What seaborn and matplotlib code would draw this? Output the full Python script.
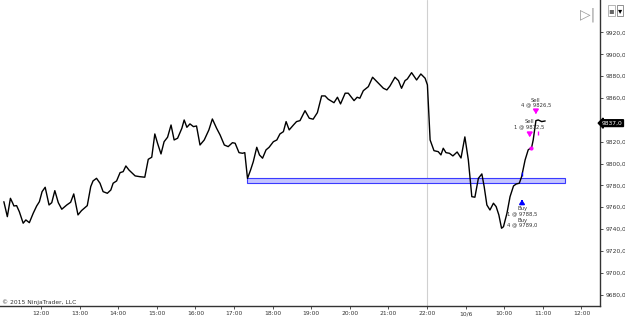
import numpy as np
import pandas as pd
import matplotlib
matplotlib.use("Agg")
import matplotlib.pyplot as plt
import matplotlib.transforms as mtransforms
from matplotlib.patches import Rectangle
import seaborn as sns

# session hour position (12 = 12:00 ... 22 = 22:00, 23 = 10/6 session start, 24 = 10:00, ...)
times = [11.04, 11.13, 11.21, 11.27, 11.30, 11.37, 11.44, 11.54, 11.61, 11.70,
         11.80, 11.89, 11.96, 12.03, 12.11, 12.21, 12.28, 12.36, 12.45, 12.54,
         12.67, 12.77, 12.85, 12.96, 13.05, 13.20, 13.29, 13.35, 13.44, 13.53,
         13.61, 13.72, 13.81, 13.87, 13.96, 14.05, 14.13, 14.20, 14.28, 14.44,
         14.56, 14.69, 14.78, 14.87, 14.95, 15.02, 15.11, 15.19, 15.28, 15.37,
         15.45, 15.54, 15.65, 15.71, 15.78, 15.86, 15.95, 16.03, 16.12, 16.23,
         16.35, 16.44, 16.55, 16.64, 16.75, 16.85, 16.96, 17.03, 17.13, 17.22,
         17.28, 17.35, 17.43, 17.50, 17.59, 17.66, 17.74, 17.83, 17.91, 18.02,
         18.11, 18.19, 18.28, 18.35, 18.43, 18.54, 18.62, 18.71, 18.84, 18.95,
         19.05, 19.16, 19.27, 19.36, 19.44, 19.59, 19.68, 19.76, 19.88, 19.96,
         20.11, 20.19, 20.26, 20.35, 20.48, 20.59, 20.70, 20.87, 20.96, 21.04,
         21.17, 21.26, 21.34, 21.43, 21.49, 21.60, 21.73, 21.84, 21.95, 22.01,
         22.08, 22.18, 22.29, 22.36, 22.42, 22.49, 22.58, 22.67, 22.78, 22.88,
         22.98, 23.07, 23.16, 23.24, 23.33, 23.42, 23.48, 23.55, 23.63, 23.72,
         23.79, 23.86, 23.93, 23.98, 24.07, 24.15, 24.24, 24.31, 24.39, 24.45,
         24.54, 24.62, 24.71, 24.75, 24.80, 24.82, 24.88, 24.97, 25.06]

prices = [9765.1, 9751.4, 9768.2, 9763.7, 9761.2, 9761.5, 9756.0, 9745.4, 9748.4, 9745.9,
          9754.5, 9761.2, 9765.1, 9774.3, 9778.3, 9762.1, 9764.2, 9775.2, 9764.2, 9758.2,
          9762.1, 9764.6, 9772.2, 9753.0, 9756.9, 9761.5, 9778.9, 9784.1, 9786.5, 9782.0,
          9774.3, 9772.8, 9775.8, 9782.0, 9784.1, 9791.7, 9792.6, 9797.8, 9794.1, 9788.7,
          9788.0, 9787.5, 9803.9, 9805.8, 9827.1, 9818.6, 9808.8, 9820.0, 9824.1, 9835.3,
          9821.6, 9823.2, 9832.3, 9839.9, 9833.2, 9836.3, 9833.8, 9834.4, 9817.0, 9821.6,
          9830.8, 9840.8, 9832.3, 9826.2, 9817.0, 9815.5, 9819.1, 9818.6, 9810.0, 9809.4,
          9810.0, 9786.4, 9794.1, 9801.7, 9814.9, 9807.9, 9804.9, 9812.5, 9814.9, 9820.0,
          9821.6, 9827.1, 9829.2, 9838.4, 9830.8, 9835.3, 9838.4, 9839.3, 9848.4, 9841.5,
          9840.6, 9846.6, 9861.9, 9861.9, 9858.9, 9855.7, 9860.7, 9854.6, 9864.4, 9864.4,
          9857.6, 9860.7, 9859.8, 9866.7, 9870.4, 9879.0, 9875.0, 9868.9, 9867.4, 9871.0,
          9879.0, 9875.9, 9868.9, 9875.9, 9877.4, 9883.2, 9876.5, 9882.0, 9878.1, 9872.0,
          9821.6, 9811.8, 9810.9, 9807.9, 9814.0, 9810.0, 9809.4, 9807.0, 9810.6, 9805.1,
          9824.4, 9803.3, 9769.7, 9769.2, 9786.5, 9790.5, 9778.9, 9762.1, 9757.5, 9763.7,
          9760.6, 9753.0, 9740.8, 9742.2, 9754.5, 9769.7, 9779.5, 9781.3, 9782.0, 9788.0,
          9803.3, 9812.5, 9814.9, 9821.6, 9833.8, 9839.3, 9839.9, 9838.4, 9839.0]

x_tick_pos = [12, 13, 14, 15, 16, 17, 18, 19, 20, 21, 22, 23, 24, 25, 26]
x_tick_labels = ["12:00", "13:00", "14:00", "15:00", "16:00", "17:00", "18:00", "19:00",
                 "20:00", "21:00", "22:00", "10/6", "10:00", "11:00", "12:00"]
y_ticks = [9680, 9700, 9720, 9740, 9760, 9780, 9800, 9820, 9860, 9880, 9900, 9920]

zone_start, zone_end = 17.34, 25.58
zone_low, zone_high = 9782.2, 9786.8
session_line = 22.0
last_price = 9837.0

sell_labels = ["Sell\n4 @ 9826,5", "Sell\n1 @ 9812,5"]
sell_text_pos = [(24.82, 9855.8), (24.64, 9836.0)]
sell_arrow_pos = [(24.82, 9846.3), (24.66, 9825.3)]
buy_labels = ["Buy\n1 @ 9788,5", "Buy\n4 @ 9789,0"]
buy_text_pos = [(24.47, 9756.2), (24.47, 9745.8)]
buy_arrow_pos = (24.46, 9766.0)

sns.set_style("white")
plt.rcParams['font.family'] = ['DejaVu Sans']

fig = plt.figure(figsize=(6.25, 3.19), dpi=100)
ax = fig.add_axes([0.0, 0.041, 0.96, 0.959])

df = pd.DataFrame({"t": times, "price": prices})
ax.axvline(session_line, color="#d0d0d0", lw=0.8, zorder=0)
ax.add_patch(Rectangle((zone_start, zone_low), zone_end - zone_start, zone_high - zone_low,
                       facecolor="#c4c4ff", edgecolor="#3a3aff", lw=0.8, zorder=1))
sns.lineplot(data=df, x="t", y="price", color="black", lw=1.0, ax=ax, zorder=3)

ax.set_xlim(10.94, 26.48)
ax.set_ylim(9669.7, 9949.7)

ax.set_xticks(x_tick_pos)
ax.set_xticklabels(x_tick_labels)
ax.set_yticks(y_ticks)
ax.set_yticklabels([f"{v:.1f}".replace(".", ",") for v in y_ticks])
ax.yaxis.tick_right()
ax.tick_params(axis="both", labelsize=4.3, colors="#333333", length=2.5, width=0.6,
               pad=1.5, direction="out")
ax.tick_params(axis="y", right=True, left=False)
ax.tick_params(axis="x", bottom=True)
ax.set_xlabel("")
ax.set_ylabel("")
for s in ["top", "left"]:
    ax.spines[s].set_visible(False)
for s in ["right", "bottom"]:
    ax.spines[s].set_color("#333333")
    ax.spines[s].set_linewidth(1.0)

# trade markers
for lab, (tx, ty) in zip(sell_labels, sell_text_pos):
    ax.text(tx, ty, lab, ha="center", va="center", fontsize=3.8, color="#333333",
            linespacing=1.0, zorder=4)
for (ax_x, ax_y) in sell_arrow_pos:
    ax.annotate("", xy=(ax_x, ax_y - 3.4), xytext=(ax_x, ax_y + 3.4),
                arrowprops=dict(arrowstyle="-|>,head_width=0.15,head_length=0.22",
                                color="#ff00ff", lw=1.3), zorder=5)
ax.plot([24.88], [9828.0], marker="|", color="#ff00ff", ms=3, mew=1.0, zorder=5)
ax.plot([24.69], [9814.0], marker="o", color="#ff00ff", ms=2, zorder=5)

ax.annotate("", xy=(buy_arrow_pos[0], buy_arrow_pos[1] + 3.4),
            xytext=(buy_arrow_pos[0], buy_arrow_pos[1] - 3.4),
            arrowprops=dict(arrowstyle="-|>,head_width=0.15,head_length=0.22",
                            color="#0000ff", lw=1.3), zorder=5)
for lab, (tx, ty) in zip(buy_labels, buy_text_pos):
    ax.text(tx, ty, lab, ha="center", va="center", fontsize=3.8, color="#333333",
            linespacing=1.0, zorder=4)
ax.plot([24.45], [9790.5], marker="|", color="#0000ff", ms=3, mew=1.0, zorder=5)

# last price box
trans = mtransforms.blended_transform_factory(ax.transAxes, ax.transData)
ax.text(1.003, last_price, "9837,0", transform=trans, ha="left", va="center",
        fontsize=4.3, color="white",
        bbox=dict(boxstyle="larrow,pad=0.15", fc="black", ec="black"), zorder=6,
        clip_on=False)

fig.text(0.003, 0.043, "\u00a9 2015 NinjaTrader, LLC", fontsize=4.3, color="#333333",
         ha="left", va="bottom")
fig.text(0.94, 0.955, "\u25b7|", fontsize=10, color="#999999", ha="center", va="center")
fig.text(0.978, 0.968, "\u25aa", fontsize=6, color="#666666", ha="center", va="center",
         bbox=dict(boxstyle="square,pad=0.1", fc="white", ec="#999999", lw=0.5))
fig.text(0.992, 0.968, "\u25be", fontsize=6, color="black", ha="center", va="center",
         bbox=dict(boxstyle="square,pad=0.1", fc="white", ec="#666666", lw=0.5))

fig.savefig("out.png", dpi=100)
